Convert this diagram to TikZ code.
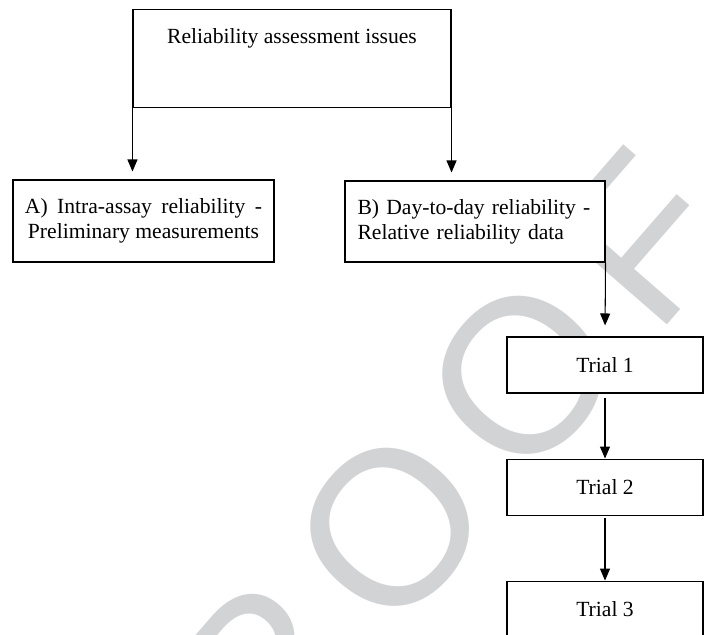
\documentclass[tikz,border=0pt]{standalone}
\usepackage{fontspec}
\setmainfont{Liberation Serif}
\newfontfamily\proofsans{Liberation Sans}
\usetikzlibrary{positioning}
\usetikzlibrary{arrows.meta}

\begin{document}
\begin{tikzpicture}[node distance=1.3cm and 1cm]
    \tikzset{box/.style={draw=black, line width=0.6pt, fill=white, inner sep=0pt}}
    \tikzset{pfeil/.style={-{Triangle[width=0.2cm,length=0.24cm]}, line width=0.6pt}}

    % Farben
    \definecolor{Proof_grey}{RGB}{210,211,213}

    \useasboundingbox (0,0) rectangle (14.2,-12.7);

    % Wasserzeichen (hinter den Kaesten)
    \begin{scope}
        \clip (0,0) rectangle (14.2,-12.7);
        \node[text=Proof_grey, rotate=49, anchor=base west, inner sep=0pt, font=\proofsans\fontsize{125}{125}\selectfont] (proof) at (3.04,-18.34) {P\kern0.6cm R\kern0.6cm O\kern0.6cm O\kern0.6cm F};
    \end{scope}

    \begin{scope}[font=\fontsize{12.3}{14.2}\selectfont]
    % Oberer Kasten
    \node[box, anchor=north, minimum width=6.36cm, text height=0.68cm, text depth=1.28cm] (issues) at (5.84,-0.18) {Reliability assessment issues};

    % Zweig A und B
    \node[box, minimum width=5.22cm, minimum height=1.64cm, align=center] (intra) at (2.87,-4.42) {\makebox[4.74cm][s]{A) Intra-assay reliability -}\\Preliminary measurements};
    \node[box, minimum width=5.2cm, minimum height=1.62cm, text width=4.7cm, align=left] (daytoday) at (9.5,-4.43) {\makebox[4.7cm][s]{B) Day-to-day reliability -}\\Relative reliability data};

    % Versuche
    \node[box, minimum width=3.92cm, minimum height=1.12cm] (trial1) at (12.1,-7.3) {Trial 1};
    \node[box, minimum width=3.92cm, minimum height=1.12cm, below=of trial1] (trial2) {Trial 2};
    \node[box, minimum width=3.92cm, minimum height=1.12cm, below=of trial2] (trial3) {Trial 3};
    \end{scope}

    % Pfeile
    \draw[pfeil, shorten >=0.16cm] (issues.south west) -- (issues.south west |- intra.north);
    \draw[pfeil, shorten >=0.16cm] (issues.south east) -- (issues.south east |- daytoday.north);
    \draw[pfeil, shorten >=0.22cm] (daytoday.south east) -- (trial1.north);
    \draw[pfeil, shorten <=0.08cm] (trial1.south) -- (trial2.north);
    \draw[pfeil, shorten <=0.04cm] (trial2.south) -- (trial3.north);

\end{tikzpicture}
\end{document}
